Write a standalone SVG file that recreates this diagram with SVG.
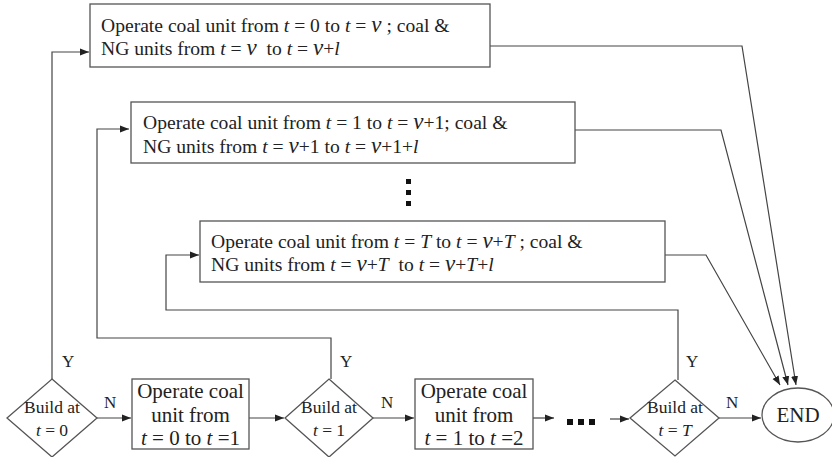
<svg xmlns="http://www.w3.org/2000/svg" width="832" height="457" viewBox="0 0 832 457">
<style>
  .box { fill: #ffffff; stroke: #555555; stroke-width: 1.3; }
  .ln { fill: none; stroke: #444444; stroke-width: 1.2; }
  .tx { font-family: "Liberation Serif", "Times New Roman", serif; fill: #222222; }
  .big { font-size: 19.6px; }
  .mid { font-size: 21px; }
  .sm { font-size: 17.5px; }
  .lab { font-size: 17px; }
  .i { font-style: italic; }
  .nu { font-style: italic; font-size: 23px; }
  .dot { fill: #111111; }
</style>
<defs>
  <marker id="ah" markerWidth="10" markerHeight="8" refX="9" refY="4" orient="auto" markerUnits="userSpaceOnUse">
    <path d="M0,0.5 L9,4 L0,7.5 Z" fill="#222222"/>
  </marker>
</defs>
<rect width="832" height="457" fill="#ffffff"/>

<g id="connectors">
  <polyline class="ln" points="52,379 52,52 89,52" marker-end="url(#ah)"/>
  <polyline class="ln" points="331,379 331,338 97,338 97,129 129,129" marker-end="url(#ah)"/>
  <polyline class="ln" points="678,380 678,310 166,310 166,255 199,255" marker-end="url(#ah)"/>
  <line class="ln" x1="97" y1="418" x2="131" y2="418" marker-end="url(#ah)"/>
  <line class="ln" x1="249" y1="418" x2="284" y2="418" marker-end="url(#ah)"/>
  <line class="ln" x1="373" y1="418" x2="414" y2="418" marker-end="url(#ah)"/>
  <line class="ln" x1="533" y1="418" x2="554" y2="418" marker-end="url(#ah)"/>
  <line class="ln" x1="610" y1="419" x2="629" y2="419" marker-end="url(#ah)"/>
  <line class="ln" x1="719" y1="418" x2="761" y2="418" marker-end="url(#ah)"/>
  <polyline class="ln" points="490,46 742,46 796,385" marker-end="url(#ah)"/>
  <polyline class="ln" points="575,130 721,130 788,385" marker-end="url(#ah)"/>
  <polyline class="ln" points="665,255 706,255 780,385" marker-end="url(#ah)"/>
  <text class="tx lab" x="62" y="367">Y</text>
  <text class="tx lab" x="340" y="367">Y</text>
  <text class="tx lab" x="686" y="367">Y</text>
  <text class="tx lab" x="104" y="408">N</text>
  <text class="tx lab" x="381" y="408">N</text>
  <text class="tx lab" x="726" y="408">N</text>
</g>

<g id="box-t0">
  <rect class="box" x="90" y="4" width="400" height="63"/>
  <text class="tx big" x="101" y="32" xml:space="preserve">Operate coal unit from <tspan class="i">t</tspan> = 0 to <tspan class="i">t</tspan> = <tspan class="nu">ν</tspan> ; coal &amp;</text>
  <text class="tx big" x="101" y="55" xml:space="preserve">NG units from <tspan class="i">t</tspan> = <tspan class="nu">ν</tspan>  to <tspan class="i">t</tspan> = <tspan class="nu">ν</tspan>+<tspan class="i">l</tspan></text>
</g>

<g id="box-t1">
  <rect class="box" x="131" y="102" width="444" height="61"/>
  <text class="tx big" x="143" y="129" xml:space="preserve">Operate coal unit from <tspan class="i">t</tspan> = 1 to <tspan class="i">t</tspan> = <tspan class="nu">ν</tspan>+1; coal &amp;</text>
  <text class="tx big" x="143" y="153" xml:space="preserve">NG units from <tspan class="i">t</tspan> = <tspan class="nu">ν</tspan>+1 to <tspan class="i">t</tspan> = <tspan class="nu">ν</tspan>+1+<tspan class="i">l</tspan></text>
</g>

<g id="vdots">
  <rect class="dot" x="406" y="179" width="5" height="5"/>
  <rect class="dot" x="406" y="190" width="5" height="5"/>
  <rect class="dot" x="406" y="201" width="5" height="5"/>
</g>

<g id="box-tT">
  <rect class="box" x="200" y="221" width="465" height="61"/>
  <text class="tx big" x="211" y="248" xml:space="preserve">Operate coal unit from <tspan class="i">t</tspan> = <tspan class="i">T</tspan> to <tspan class="i">t</tspan> = <tspan class="nu">ν</tspan>+<tspan class="i">T</tspan> ; coal &amp;</text>
  <text class="tx big" x="211" y="271" xml:space="preserve">NG units from <tspan class="i">t</tspan> = <tspan class="nu">ν</tspan>+<tspan class="i">T</tspan>  to <tspan class="i">t</tspan> = <tspan class="nu">ν</tspan>+<tspan class="i">T</tspan>+<tspan class="i">l</tspan></text>
</g>

<g id="dec-0">
  <polygon class="box" points="52,379 97,418 52,457 7,418"/>
  <text class="tx sm" x="52" y="413" text-anchor="middle">Build at</text>
  <text class="tx sm" x="52" y="436" text-anchor="middle"><tspan class="i">t</tspan> = 0</text>
</g>

<g id="op-0">
  <rect class="box" x="132" y="379" width="117" height="70"/>
  <text class="tx mid" x="190.5" y="398" text-anchor="middle">Operate coal</text>
  <text class="tx mid" x="190.5" y="422" text-anchor="middle">unit from</text>
  <text class="tx mid" x="190.5" y="445" text-anchor="middle"><tspan class="i">t</tspan> = 0 to <tspan class="i">t</tspan> =1</text>
</g>

<g id="dec-1">
  <polygon class="box" points="329,379 373,418 329,457 285,418"/>
  <text class="tx sm" x="329" y="413" text-anchor="middle">Build at</text>
  <text class="tx sm" x="329" y="436" text-anchor="middle"><tspan class="i">t</tspan> = 1</text>
</g>

<g id="op-1">
  <rect class="box" x="415" y="379" width="118" height="70"/>
  <text class="tx mid" x="474" y="398" text-anchor="middle">Operate coal</text>
  <text class="tx mid" x="474" y="422" text-anchor="middle">unit from</text>
  <text class="tx mid" x="474" y="445" text-anchor="middle"><tspan class="i">t</tspan> = 1 to <tspan class="i">t</tspan> =2</text>
</g>

<g id="hdots">
  <rect class="dot" x="567" y="419" width="6" height="6"/>
  <rect class="dot" x="578" y="419" width="6" height="6"/>
  <rect class="dot" x="589" y="419" width="6" height="6"/>
</g>

<g id="dec-T">
  <polygon class="box" points="675,380 719,418 675,456 630,418"/>
  <text class="tx sm" x="675" y="413" text-anchor="middle">Build at</text>
  <text class="tx sm" x="675" y="436" text-anchor="middle"><tspan class="i">t</tspan> = <tspan class="i">T</tspan></text>
</g>

<g id="end">
  <ellipse class="box" cx="798" cy="415" rx="36" ry="27"/>
  <text class="tx mid" x="798" y="422" text-anchor="middle">END</text>
</g>
</svg>
